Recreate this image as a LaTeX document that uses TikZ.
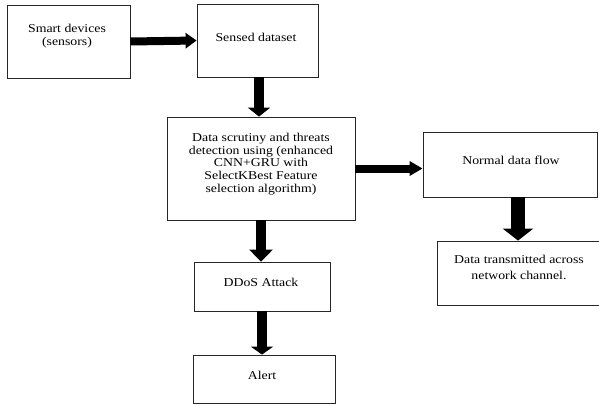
\documentclass[tikz,border=0pt]{standalone}
\usepackage{fontspec}
\setmainfont{Liberation Serif}[FakeStretch=1.15]
\usetikzlibrary{arrows.meta}
\tikzset{
  box/.style={draw=black!85, line width=0.8pt, rectangle, inner sep=0pt, fill=white},
  txt/.style={align=center, inner sep=0pt, font=\fontsize{12}{12.8}\selectfont},
  blk/.style={line width=#1, draw=black},
}
\begin{document}
\begin{tikzpicture}[x=1pt,y=-1pt]
\useasboundingbox (0,0) rectangle (599,405);
\fill[white] (0,0) rectangle (599,405);
% boxes
\node[box, minimum width=123pt, minimum height=73pt] (b1) at (68.5,41.5) {};
\node[box, minimum width=121pt, minimum height=73pt] (b2) at (257.5,40.5) {};
\node[box, minimum width=188pt, minimum height=103pt] (b3) at (261,168.5) {};
\node[box, minimum width=174pt, minimum height=65pt] (b4) at (510,164.5) {};
\node[box, minimum width=165pt, minimum height=64pt] (b5) at (519.5,273) {};
\node[box, minimum width=136pt, minimum height=49pt] (dd) at (262,286.5) {};
\node[box, minimum width=142pt, minimum height=48pt] (al) at (264,379) {};
% texts
\node[txt] (t1) at (67,36) {Smart devices\\(sensors)};
\node[txt] (t2) at (256,37.5) {Sensed dataset};
\node[txt] (t3) at (261,164) {Data scrutiny and threats\\detection using (enhanced\\CNN+GRU with\\SelectKBest Feature\\selection algorithm)};
\node[txt] (t4) at (511,160.5) {Normal data flow};
\node[txt, font=\fontsize{12}{15.5}\selectfont] (t5) at (519,267.5) {Data transmitted across\\network channel.};
\node[txt] (t6) at (261,282.5) {DDoS Attack};
\node[txt] (t7) at (262,375.5) {Alert};
% arrows
\draw[blk=8pt, -{Triangle[length=11pt,width=15pt]}] (b1.east) -- (b2.west);
\draw[blk=10pt, -{Triangle[length=9pt,width=22pt]}] ([xshift=1.5pt]b2.south) -- ([xshift=1.5pt]b2.south |- b3.north);
\draw[blk=8pt, -{Triangle[length=13pt,width=14pt]}] (b3.east) -- (b3.east -| b4.west);
\draw[blk=14pt, -{Triangle[length=12pt,width=30pt]}] ([xshift=8pt]b4.south) -- ([xshift=8pt]b4.south |- b5.north);
\draw[blk=10pt, -{Triangle[length=12pt,width=23pt]}] (b3.south) -- (b3.south |- dd.north);
\draw[blk=10pt, -{Triangle[length=8pt,width=22pt]}] (dd.south) -- (dd.south |- al.north);
\end{tikzpicture}
\end{document}
